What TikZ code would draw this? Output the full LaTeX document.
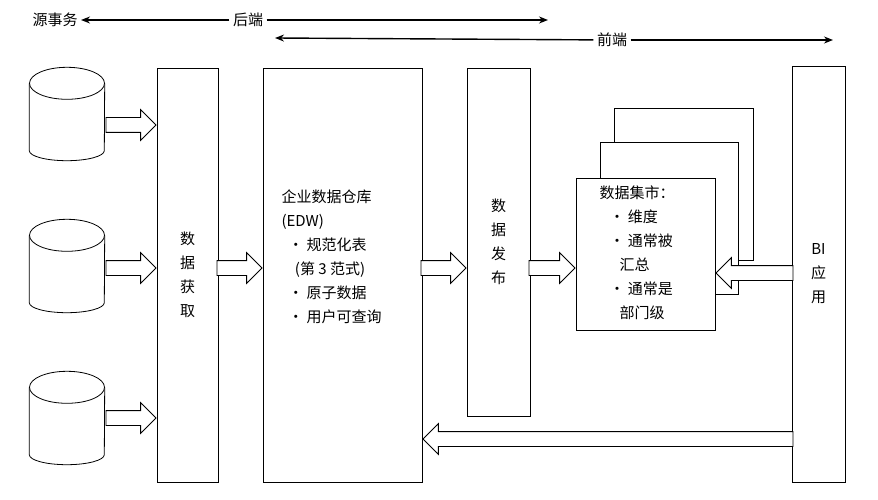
\documentclass[tikz,border=0pt]{standalone}
\usepackage{fontspec}
\setmainfont{Noto Sans CJK SC}
\usetikzlibrary{shapes.geometric,shapes.arrows,positioning,arrows.meta}
\tikzset{
  box/.style={draw, thick, fill=white, inner sep=0pt},
  db/.style={draw=none, minimum width=75pt, minimum height=93pt, inner sep=0pt},
  fat/.style={single arrow, draw, thick, fill=white, inner sep=0pt, inner ysep=7pt,
    single arrow head extend=8pt, single arrow tip angle=90, anchor=tip},
  lbl/.style={font=\fontsize{15}{24}\selectfont, align=center},
  span/.style={-{Stealth[length=9pt,width=7pt]}, line width=1.4pt},
}
\newcommand{\drum}[1]{%
  \draw[thick, fill=white] ([yshift=-16pt]#1.north west) -- ([yshift=10pt]#1.south west)
    arc[start angle=180, end angle=360, x radius=37.5, y radius=-10]
    -- ([yshift=-16pt]#1.north east);
  \draw[thick, fill=white] ([yshift=-16pt]#1.north) ellipse[x radius=37.5, y radius=16];
}
\begin{document}
\begin{tikzpicture}[x=1pt, y=-1pt]
  \useasboundingbox (0,0) rectangle (878,500);
  % header
  \node[lbl] (src) at (55,20) {源事务};
  \node[lbl] (back) at (248,20) {后端};
  \node[lbl] (front) at (612,40) {前端};
  \coordinate (backend) at (548,20);
  \coordinate (fs) at (275,38);
  \coordinate (fe) at (833,40);
  \draw[span] (back) -- (src);
  \draw[span] (back) -- (backend);
  \draw[span] (front) -- (fs);
  \draw[span] (front) -- (fe);
  % sources
  \node[db] (db1) at (67,114) {};
  \node[db] (db2) at (67,266) {};
  \node[db] (db3) at (67,418) {};
  \foreach \d in {db1,db2,db3} {\drum{\d}}
  % boxes
  \node[box, minimum width=61pt, minimum height=414pt, lbl] (acq) at (187.5,275) {数\\据\\获\\取};
  \node[box, minimum width=159pt, minimum height=414pt] (edw) at (342.5,275) {};
  \node[lbl, align=left, anchor=north west] (edwtxt) at (278,186)
    {企业数据仓库\\(EDW)\\\ \ • 规范化表\\\ \ \ \ (第 3 范式)\\\ \ • 原子数据\\\ \ • 用户可查询};
  \node[box, minimum width=63pt, minimum height=348pt, lbl] (pub) at (498.5,242) {数\\据\\发\\布};
  \node[box, minimum width=139pt, minimum height=152pt] (mart3) at (683.5,184) {};
  \node[box, minimum width=138pt, minimum height=152pt] (mart2) at (669,218) {};
  \node[box, minimum width=139pt, minimum height=152pt] (mart) at (645.5,254) {};
  \node[lbl, align=left, anchor=north west] (marttxt) at (596,182)
    {数据集市：\\\ \ \ • 维度\\\ \ \ • 通常被\\\ \ \ \ \ \ 汇总\\\ \ \ • 通常是\\\ \ \ \ \ \ 部门级};
  \node[box, minimum width=53pt, minimum height=416pt, lbl] (bi) at (818.5,274) {BI\\应\\用};
  % block arrows
  \foreach \s/\y in {db1/125, db2/268, db3/418}
    \path (\s.east|-0,\y) -- (acq.west|-0,\y) node[fat, minimum height=50pt] {};
  \path (acq.east|-0,268) -- (edw.west|-0,268) node[fat, minimum height=45pt] {};
  \path (edw.east|-0,268) -- (pub.west|-0,268) node[fat, minimum height=45pt] {};
  \path (pub.east|-0,268) -- (mart.west|-0,268) node[fat, minimum height=46pt] {};
  \path (bi.west|-0,273) -- (mart.east|-0,273) node[fat, minimum height=77pt, shape border rotate=180] {};
  \path (bi.west|-0,439) -- (edw.east|-0,439) node[fat, minimum height=370pt, shape border rotate=180] {};
\end{tikzpicture}
\end{document}
